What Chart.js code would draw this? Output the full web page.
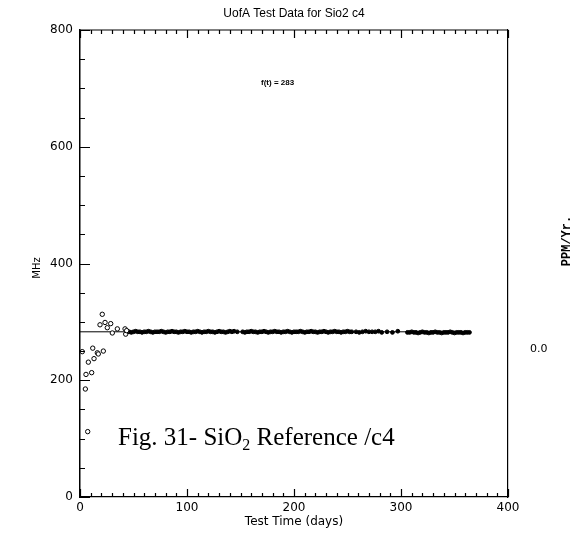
<!DOCTYPE html>
<html>
<head>
<meta charset="utf-8">
<script src="https://cdn.jsdelivr.net/npm/chart.js@4"></script>
<style>
  html, body { margin: 0; padding: 0; background: #fff; }
  #wrap { width: 581px; height: 552px; }
</style>
</head>
<body>
<div id="wrap"><canvas id="chart" width="581" height="552"></canvas></div>
<script>
// Early readings, before the oscillator settles
const earlyDays = [2.1, 5.0, 5.6, 7.2, 7.8, 10.9, 11.9, 13.1, 16.2, 17.1, 18.7, 20.8, 21.8, 23.4, 25.5, 28.7, 30.2, 34.9, 42.1, 42.7, 43.6];
const earlyMHz  = [249, 185, 210, 112, 231, 213, 255, 237, 247, 245, 295, 313, 250, 299, 290, 297, 281, 288, 288, 279, 285];

// Settled readings
const days = [
  46, 48, 50, 52, 54, 56, 58, 60, 62, 64,
  66, 68, 70, 72, 74, 76, 78, 80, 82, 84,
  86, 88, 90, 92, 94, 96, 98, 100, 102, 104,
  106, 108, 110, 112, 114, 116, 118, 120, 122, 124,
  126, 128, 130, 132, 134, 136, 138, 140, 142, 144,
  147, 152, 154, 156, 158, 160, 162, 164, 166, 168,
  170, 172, 174, 176, 178, 180, 182, 184, 186, 188,
  190, 192, 194, 196, 198, 200, 202, 204, 206, 208,
  210, 212, 214, 216, 218, 220, 222, 224, 226, 228,
  230, 232, 234, 236, 238, 240, 242, 244, 246, 248,
  250, 252, 254, 258, 261, 264, 267, 270, 273, 276,
  279, 282, 287, 292, 297, 306, 308, 310, 312, 314,
  316, 318, 320, 322, 324, 326, 328, 330, 332, 334,
  336, 338, 340, 342, 344, 346, 348, 350, 352, 354,
  356, 358, 360, 362, 364
];
const mhz = [
  283, 282, 283, 284, 283, 283, 282, 283, 283, 284,
  283, 282, 283, 283, 283, 284, 283, 282, 283, 283,
  284, 283, 283, 282, 283, 283, 284, 283, 283, 282,
  283, 283, 284, 283, 282, 283, 283, 284, 283, 283,
  282, 283, 284, 283, 283, 282, 283, 284, 283, 284,
  283, 283, 282, 283, 283, 284, 283, 283, 282, 283,
  283, 284, 283, 282, 283, 283, 284, 283, 283, 282,
  283, 283, 284, 283, 282, 283, 283, 283, 284, 283,
  282, 283, 283, 284, 283, 283, 282, 283, 283, 284,
  283, 282, 283, 283, 284, 283, 283, 282, 283, 283,
  284, 283, 283, 283, 282, 283, 284, 283, 283, 283,
  284, 282, 283, 282, 284, 282, 282, 283, 282, 282,
  281, 282, 283, 282, 282, 281, 282, 282, 283, 282,
  282, 281, 282, 282, 282, 283, 282, 281, 282, 282,
  282, 281, 282, 282, 282
];

// Fit line f(t) = 283
const fitValue = 283;
const fitDays = [0, 364];

const xTicks = [0, 100, 200, 300, 400];
const yTicks = [0, 200, 400, 600, 800];
const rightTicks = [254];
const rightTickLabels = ['0.0'];

const toPoints = (xs, ys) => xs.map((x, i) => ({ x: x, y: ys[i] }));

// Inward tick marks, the top border and the page texts
const decorPlugin = {
  id: 'decor',
  afterDraw(chart) {
    const ctx = chart.ctx;
    const a = chart.chartArea;
    const x = chart.scales.x;
    const y = chart.scales.y;
    ctx.save();
    ctx.strokeStyle = '#000';
    ctx.lineWidth = 1.2;
    ctx.beginPath();
    ctx.moveTo(a.left, a.top);
    ctx.lineTo(a.right, a.top);
    for (let v = 0; v <= 400; v += 10) {
      const px = Math.round(x.getPixelForValue(v)) + 0.5;
      const len = v % 100 === 0 ? 8 : 4;
      ctx.moveTo(px, a.bottom);
      ctx.lineTo(px, a.bottom - len);
      ctx.moveTo(px, a.top);
      ctx.lineTo(px, a.top + len);
    }
    for (let v = 0; v <= 800; v += 50) {
      const py = Math.round(y.getPixelForValue(v)) + 0.5;
      const len = v % 200 === 0 ? 10 : 5;
      ctx.moveTo(a.left, py);
      ctx.lineTo(a.left + len, py);
    }
    ctx.stroke();

    ctx.fillStyle = '#000';
    ctx.textBaseline = 'middle';
    ctx.textAlign = 'center';
    ctx.font = '12px "Liberation Sans"';
    ctx.fillText('UofA Test Data for Sio2 c4', (a.left + a.right) / 2, 14);

    ctx.font = '12px "DejaVu Sans"';
    ctx.fillText('Test Time (days)', (a.left + a.right) / 2, 522);

    ctx.font = 'bold 8px "Liberation Sans"';
    ctx.textAlign = 'left';
    ctx.fillText('f(t) = 283', 261, 83);

    ctx.save();
    ctx.translate(37, 268);
    ctx.rotate(-Math.PI / 2);
    ctx.textAlign = 'center';
    ctx.font = '10px "DejaVu Sans"';
    ctx.fillText('MHz', 0, 0);
    ctx.restore();

    ctx.save();
    ctx.translate(567, 241);
    ctx.rotate(-Math.PI / 2);
    ctx.textAlign = 'center';
    ctx.font = 'bold 12px "Liberation Mono"';
    ctx.fillText('PPM/Yr.', 0, 0);
    ctx.restore();

    // caption with subscript 2
    ctx.textBaseline = 'alphabetic';
    ctx.textAlign = 'left';
    let cx = 118;
    const cy = 445;
    ctx.font = '25px "Liberation Serif"';
    ctx.fillText('Fig. 31- SiO', cx, cy);
    cx += ctx.measureText('Fig. 31- SiO').width;
    ctx.font = '16px "Liberation Serif"';
    ctx.fillText('2', cx, cy + 5);
    cx += ctx.measureText('2').width;
    ctx.font = '25px "Liberation Serif"';
    ctx.fillText(' Reference /c4', cx, cy);
    ctx.restore();
  }
};

new Chart(document.getElementById('chart'), {
  type: 'scatter',
  data: {
    datasets: [
      {
        type: 'line',
        data: toPoints(fitDays, [fitValue, fitValue]),
        borderColor: '#000',
        borderWidth: 1,
        pointRadius: 0,
        order: 3
      },
      {
        data: toPoints(earlyDays, earlyMHz),
        pointStyle: 'circle',
        pointRadius: 2.2,
        borderWidth: 1,
        borderColor: '#000',
        backgroundColor: '#fff',
        order: 1
      },
      {
        data: toPoints(days, mhz),
        pointStyle: 'circle',
        pointRadius: 1.9,
        borderWidth: 1,
        borderColor: '#000',
        backgroundColor: '#000',
        order: 2
      }
    ]
  },
  options: {
    responsive: false,
    animation: false,
    devicePixelRatio: 1,
    layout: { padding: { left: 0, right: 0, top: 30, bottom: 0 } },
    plugins: { legend: { display: false }, tooltip: { enabled: false } },
    scales: {
      x: {
        type: 'linear',
        min: 0,
        max: 400,
        afterBuildTicks: s => { s.ticks = xTicks.map(v => ({ value: v })); },
        afterFit: s => { s.height = 55; },
        grid: { display: false, drawTicks: false },
        border: { display: true, color: '#000', width: 1.2 },
        ticks: { color: '#000', padding: 4, maxRotation: 0, font: { family: 'DejaVu Sans', size: 12 } }
      },
      y: {
        min: 0,
        max: 800,
        afterBuildTicks: s => { s.ticks = yTicks.map(v => ({ value: v })); },
        afterFit: s => { s.width = 80; },
        grid: { display: false, drawTicks: false },
        border: { display: true, color: '#000', width: 1.5 },
        ticks: { color: '#000', padding: 7, font: { family: 'DejaVu Sans', size: 12 } }
      },
      y2: {
        position: 'right',
        min: 0,
        max: 800,
        afterBuildTicks: s => { s.ticks = rightTicks.map(v => ({ value: v })); },
        afterFit: s => { s.width = 73; },
        grid: { display: false, drawTicks: false },
        border: { display: true, color: '#000', width: 1.2 },
        ticks: {
          color: '#000',
          padding: 22,
          font: { family: 'DejaVu Sans', size: 11 },
          callback: (v, i) => rightTickLabels[i]
        }
      }
    }
  },
  plugins: [decorPlugin]
});
</script>
</body>
</html>
